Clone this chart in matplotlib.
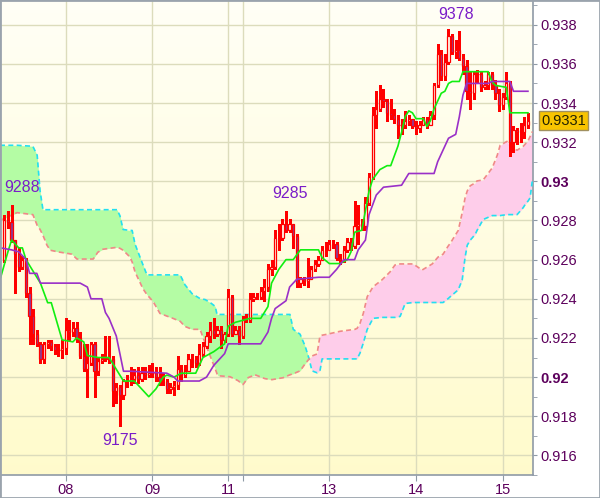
import numpy as np
import matplotlib
matplotlib.use("Agg")
import matplotlib.pyplot as plt
from matplotlib.patches import Rectangle
from matplotlib.transforms import blended_transform_factory

# --- Dados (preços em pips, 1e-4) -----------------------
first_open = 9260

closes = [9280, 9279, 9270, 9263, 9256, 9260, 9243, 9231, 9222, 9217,
          9209, 9217, 9218, 9216, 9214, 9214, 9215, 9224, 9223, 9225,
          9220, 9211, 9204, 9207, 9217, 9203, 9208, 9209, 9210, 9209,
          9193, 9195, 9191, 9198, 9198, 9199, 9201, 9199, 9202, 9201,
          9202, 9202, 9200, 9198, 9198, 9194, 9195, 9196, 9204, 9201,
          9203, 9209, 9209, 9207, 9212, 9216, 9221, 9224, 9222, 9224,
          9219, 9222, 9241, 9222, 9224, 9221, 9229, 9229, 9240, 9241,
          9241, 9244, 9246, 9255, 9256, 9271, 9271, 9278, 9275, 9278,
          9272, 9248, 9250, 9249, 9250, 9255, 9258, 9260, 9265, 9265,
          9268, 9268, 9261, 9260, 9265, 9269, 9267, 9277, 9278, 9277,
          9289, 9302, 9334, 9337, 9342, 9341, 9335, 9334, 9332, 9329,
          9329, 9331, 9332, 9328, 9327, 9329, 9332, 9329, 9334, 9349,
          9365, 9354, 9361, 9374, 9366, 9367, 9363, 9359, 9346, 9345,
          9355, 9355, 9348, 9349, 9355, 9349, 9345, 9339, 9343, 9350,
          9320, 9326, 9325, 9325, 9329, 9331]

highs = [9283, 9285, 9288, 9270, 9266, 9262, 9261, 9246, 9235, 9224,
         9218, 9218, 9219, 9219, 9217, 9217, 9219, 9230, 9229, 9228,
         9228, 9223, 9217, 9217, 9218, 9218, 9210, 9212, 9221, 9221,
         9211, 9197, 9196, 9199, 9201, 9205, 9204, 9205, 9205, 9205,
         9206, 9207, 9205, 9205, 9202, 9199, 9197, 9198, 9211, 9206,
         9206, 9212, 9212, 9211, 9217, 9218, 9223, 9228, 9230, 9226,
         9226, 9223, 9245, 9242, 9226, 9226, 9231, 9232, 9243, 9243,
         9243, 9246, 9250, 9258, 9260, 9275, 9278, 9281, 9285, 9281,
         9278, 9273, 9251, 9251, 9261, 9257, 9260, 9262, 9267, 9269,
         9270, 9270, 9269, 9263, 9267, 9271, 9271, 9290, 9288, 9281,
         9292, 9304, 9338, 9346, 9349, 9347, 9342, 9342, 9337, 9334,
         9332, 9336, 9334, 9332, 9331, 9331, 9333, 9333, 9336, 9350,
         9370, 9367, 9365, 9378, 9375, 9372, 9377, 9365, 9362, 9356,
         9356, 9357, 9356, 9351, 9356, 9356, 9352, 9347, 9345, 9356,
         9351, 9328, 9327, 9330, 9333, 9335]

lows = [9259, 9276, 9269, 9243, 9254, 9255, 9241, 9217, 9217, 9216,
        9207, 9207, 9215, 9214, 9212, 9211, 9210, 9212, 9219, 9221,
        9218, 9210, 9203, 9190, 9206, 9190, 9201, 9207, 9208, 9207,
        9185, 9187, 9175, 9189, 9195, 9196, 9197, 9197, 9198, 9199,
        9200, 9200, 9198, 9196, 9196, 9192, 9192, 9191, 9194, 9198,
        9200, 9203, 9205, 9205, 9206, 9211, 9215, 9218, 9220, 9221,
        9215, 9218, 9221, 9221, 9222, 9217, 9220, 9228, 9228, 9239,
        9240, 9240, 9239, 9244, 9252, 9255, 9265, 9270, 9274, 9274,
        9266, 9246, 9246, 9247, 9246, 9250, 9254, 9257, 9260, 9262,
        9265, 9266, 9260, 9258, 9259, 9264, 9265, 9266, 9268, 9275,
        9275, 9288, 9301, 9327, 9336, 9338, 9331, 9332, 9330, 9322,
        9324, 9327, 9329, 9327, 9324, 9325, 9329, 9327, 9329, 9332,
        9348, 9352, 9352, 9360, 9365, 9363, 9362, 9355, 9342, 9337,
        9342, 9350, 9346, 9347, 9347, 9347, 9342, 9336, 9337, 9342,
        9313, 9315, 9319, 9320, 9322, 9327]

# Tenkan (verde) e Kijun (roxo): vértices (índice do candle, pips)
tenkan_j = [-1, 1, 2, 4, 5, 6, 10, 12, 13, 16, 19, 20, 22, 23, 26, 29, 31, 33, 36, 38,
            40, 42, 44, 45, 47, 49, 53, 55, 58, 61, 62, 64, 66, 68, 71, 73, 74, 76, 78, 80,
            82, 87, 88, 90, 93, 95, 96, 97, 99, 100, 101, 102, 104, 106, 107, 108, 109, 110,
            111, 112, 113, 114, 116, 117, 118, 119, 121, 122, 123, 124, 126, 127, 134, 135,
            136, 139, 140, 145]
tenkan_p = [9251, 9264, 9270, 9266, 9266, 9260, 9248, 9238, 9238, 9219, 9218, 9220, 9218,
            9211, 9210, 9210, 9204, 9198, 9198, 9194, 9190, 9194, 9200, 9201, 9200, 9202,
            9202, 9210, 9213, 9217, 9226, 9228, 9229, 9230, 9230, 9236, 9248, 9255, 9260,
            9260, 9265, 9265, 9261, 9258, 9258, 9260, 9264, 9274, 9275, 9285, 9295, 9301,
            9306, 9308, 9308, 9313, 9318, 9325, 9333, 9336, 9335, 9332, 9332, 9328, 9331,
            9337, 9345, 9346, 9350, 9351, 9351, 9356, 9356, 9351, 9349, 9348, 9335, 9335]

kijun_j = [-1, 2, 4, 5, 6, 7, 9, 10, 21, 23, 24, 27, 28, 29, 31, 33, 35, 45, 47, 48,
           54, 56, 58, 60, 61, 62, 71, 73, 74, 75, 78, 79, 81, 87, 90, 92, 94, 97, 98, 100,
           101, 103, 105, 110, 112, 119, 120, 121, 123, 125, 126, 127, 128, 134, 135, 140,
           141, 145]
kijun_p = [9266, 9265, 9264, 9262, 9260, 9253, 9253, 9248, 9248, 9246, 9240, 9240, 9233,
           9230, 9221, 9203, 9203, 9202, 9200, 9198, 9198, 9200, 9206, 9210, 9212, 9217,
           9217, 9223, 9230, 9235, 9239, 9246, 9250, 9251, 9251, 9255, 9260, 9260, 9265,
           9270, 9283, 9293, 9297, 9298, 9304, 9304, 9310, 9314, 9322, 9324, 9333, 9344,
           9350, 9350, 9351, 9351, 9346, 9346]

# Nuvem: Senkou A (ciano) e Senkou B (salmão) nos mesmos índices
cloud_j = [-1.2, 3.5, 7.9, 9.1, 9.9, 10.7, 11.8, 12.7, 15.4, 18.7, 20.1, 24.6, 25.9, 27.3,
           31.2, 32.0, 32.9, 34.8, 35.4, 36.2, 38.4, 39.5, 41.2, 43.1, 46.7, 48.7, 50.0,
           52.0, 54.2, 55.6, 57.0, 58.4, 58.9, 59.2, 62.5, 64.7, 66.1, 67.5, 69.4, 72.2,
           74.1, 77.2, 79.1, 80.0, 81.9, 83.3, 84.4, 85.2, 86.6, 87.4, 88.0, 89.4, 93.0,
           97.1, 97.7, 98.5, 99.4, 100.5, 102.1, 104.6, 106.8, 108.2, 109.6, 111.0, 113.2,
           115.7, 118.5, 120.1, 121.5, 122.9, 123.5, 125.7, 126.8, 127.6, 128.2, 129.0,
           130.4, 130.9, 132.6, 135.1, 136.5, 137.3, 139.2, 140.6, 142.0, 143.7, 144.2,
           145.1, 145.6, 146.2]
span_a = [9318.4, 9318.4, 9317.9, 9313.3, 9295.1, 9285.5, 9285.5, 9285.5, 9285.5, 9285.5,
          9285.5, 9285.5, 9285.5, 9285.5, 9285.5, 9282.5, 9275.4, 9274.9, 9274.9, 9267.9,
          9257.3, 9252.2, 9252.2, 9252.2, 9252.2, 9252.2, 9247.2, 9242.6, 9240.1, 9239.6,
          9238.1, 9236.1, 9232.0, 9232.0, 9232.0, 9232.0, 9232.0, 9232.0, 9232.0, 9232.0,
          9232.0, 9232.0, 9232.0, 9224.4, 9221.9, 9215.8, 9209.3, 9203.2, 9202.2, 9203.2,
          9209.3, 9209.3, 9209.3, 9209.3, 9209.3, 9212.3, 9217.4, 9224.4, 9230.0, 9230.5,
          9230.5, 9230.5, 9231.0, 9237.6, 9238.1, 9238.1, 9238.1, 9238.1, 9238.1, 9240.1,
          9241.1, 9244.6, 9249.7, 9261.3, 9267.4, 9269.9, 9272.9, 9274.9, 9280.5, 9282.5,
          9282.5, 9282.5, 9283.0, 9283.0, 9283.0, 9286.6, 9288.1, 9290.1, 9291.6, 9300.2]
span_b = [9280.0, 9284.0, 9283.0, 9277.5, 9275.4, 9272.4, 9267.4, 9264.8, 9263.8, 9262.8,
          9260.3, 9260.3, 9263.8, 9265.3, 9266.3, 9265.8, 9264.8, 9261.3, 9258.8, 9253.7,
          9245.1, 9242.1, 9238.6, 9232.5, 9230.0, 9228.5, 9225.9, 9224.4, 9224.4, 9217.4,
          9210.8, 9204.2, 9201.7, 9200.7, 9200.2, 9198.2, 9196.2, 9199.7, 9201.2, 9199.2,
          9198.7, 9199.7, 9201.2, 9201.7, 9203.2, 9206.8, 9209.3, 9210.8, 9211.8, 9220.9,
          9221.4, 9221.9, 9223.4, 9224.4, 9224.9, 9227.5, 9232.5, 9241.1, 9246.1, 9249.7,
          9253.7, 9257.3, 9257.8, 9257.8, 9257.8, 9254.7, 9257.8, 9261.3, 9262.8, 9266.9,
          9268.4, 9274.9, 9284.0, 9291.6, 9295.1, 9297.7, 9299.2, 9300.2, 9300.7, 9306.8,
          9313.3, 9318.4, 9320.4, 9317.0, 9315.9, 9317.9, 9318.9, 9320.9, 9322.9, 9325.4]

# Eixo de datas (índice do candle em que começa cada dia)
day_idx = [17, 41, 62, 66, 90, 114, 138]
day_lbl = ["08", "09", "11", "", "13", "14", "15"]

# Rótulos de máximos/mínimos (índice, pips do rótulo, texto)
ext_idx = [4.9, 79.1, 32.0, 125.1]
ext_pos = [9296.6, 9294.0, 9167.4, 9385.0]
ext_txt = ["9288", "9285", "9175", "9378"]

# --- Estilo ---------------------------------
RED = "#ff0000"
TXT = "#5c005c"
VIOLET = "#7a1cc8"
FONT = "Liberation Sans"


def p(v):
    return np.asarray(v, dtype=float) / 10000.0


o = p([first_open] + closes[:-1])
c = p(closes)
h = p(highs)
lo = p(lows)
idx = np.arange(len(c))

fig = plt.figure(figsize=(6.0, 4.98), dpi=100)
ax = fig.add_axes([1 / 600, 23 / 498, 532 / 600, 474 / 498])
ax.set_xlim(-0.92, 146.4)
ax.set_ylim(0.91527, 0.93921)

# fundo em degradê
grad = np.linspace(0, 1, 256).reshape(-1, 1)
top_c = np.array([1.0, 1.0, 0.965])
bot_c = np.array([1.0, 0.984, 0.80])
img = top_c * (1 - grad[..., None]) + bot_c * grad[..., None]
ax.imshow(img, extent=[0, 1, 0, 1], transform=ax.transAxes, aspect="auto", zorder=0)

# grade
for v in np.arange(0.916, 0.9381, 0.002):
    ax.axhline(v, color="#dcdcbc", lw=1, zorder=1)
for d in day_idx:
    ax.axvline(d, color="#dcdcbc", lw=1, zorder=1)

# nuvem
cj = np.array(cloud_j)
sa = p(span_a)
sb = p(span_b)
ax.fill_between(cj, sa, sb, where=sa >= sb, interpolate=True, color="#b4fca4", lw=0, zorder=2)
ax.fill_between(cj, sa, sb, where=sa < sb, interpolate=True, color="#fecdea", lw=0, zorder=2)
ax.plot(cj, sa, color="#22e0f0", lw=1.2, ls=(0, (3, 2)), zorder=3)
ax.plot(cj, sb, color="#f08888", lw=1.2, ls=(0, (3, 2)), zorder=3)

# candles
up = c >= o
b_lo = np.minimum(o, c)
b_hi = np.maximum(o, c)
ax.vlines(idx, b_hi, h, color=RED, lw=1, zorder=4, antialiased=False)
ax.vlines(idx, lo, b_lo, color=RED, lw=1, zorder=4, antialiased=False)
ax.bar(idx[up], (b_hi - b_lo)[up], 0.62, bottom=b_lo[up], facecolor="#fffff0",
       edgecolor=RED, lw=0.9, zorder=5)
ax.bar(idx[~up], (b_hi - b_lo)[~up], 0.62, bottom=b_lo[~up], facecolor="#8c3c96",
       edgecolor=RED, lw=0.9, zorder=5)

# tenkan / kijun
ax.plot(tenkan_j, p(tenkan_p), color="#11ee11", lw=1.2, zorder=6)
ax.plot(kijun_j, p(kijun_p), color="#9a30c8", lw=1.2, zorder=6)

# rótulos de extremos
for xj, yv, t in zip(ext_idx, ext_pos, ext_txt):
    ax.text(xj, yv / 10000.0, t, color=VIOLET, fontsize=11.5, family=FONT,
            ha="center", va="center", zorder=7)

# eixos
for s in ("left", "top"):
    ax.spines[s].set_visible(False)
for s in ("right", "bottom"):
    ax.spines[s].set_color("#8f9aa6")
    ax.spines[s].set_linewidth(1.2)

ax.yaxis.tick_right()
major = np.arange(0.916, 0.9381, 0.002)
ax.set_yticks(major)
ax.set_yticks(np.arange(0.915, 0.9391, 0.001), minor=True)
ylabels = [f"{v:.3f}".rstrip("0") for v in major]
ax.set_yticklabels(ylabels)
ax.tick_params(axis="y", which="both", length=3, color="#8f9aa6", pad=2.5,
               labelcolor=TXT, labelsize=10.5)
for lab in ax.get_yticklabels():
    lab.set_family(FONT)
    lab.set_horizontalalignment("left")
    if len(lab.get_text()) == 4:
        lab.set_fontweight("bold")

ax.set_xticks(day_idx)
ax.set_xticklabels(day_lbl)
ax.tick_params(axis="x", length=4, color="#8f9aa6", pad=2, labelcolor=TXT, labelsize=10.5)
for lab in ax.get_xticklabels():
    lab.set_family(FONT)

# preço atual
tr = blended_transform_factory(ax.transAxes, ax.transData)
ax.text(1.0 + 8 / 532, c[-1], f"{c[-1]:.4f}", transform=tr, ha="left", va="center",
        fontsize=10.5, family=FONT, color="#222200", zorder=8, clip_on=False,
        bbox=dict(boxstyle="square,pad=0.15", facecolor="#f8c400", edgecolor="#a09060", lw=1))

# borda da figura
fig.add_artist(Rectangle((0, 0), 1, 1, transform=fig.transFigure, fill=False,
                         edgecolor="#9aa3ad", lw=2))

fig.savefig("out.png", dpi=100)
